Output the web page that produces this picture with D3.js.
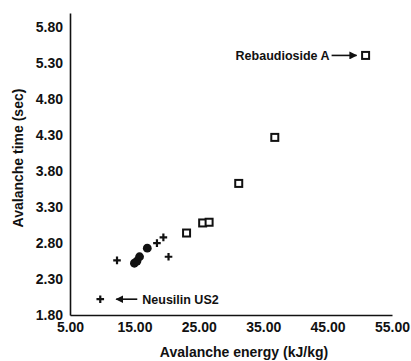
<!DOCTYPE html>
<html>
<head>
<meta charset="utf-8">
<script src="https://cdn.jsdelivr.net/npm/d3@7"></script>
<style>
  body { margin: 0; background: #fff; }
  text { font-family: "Liberation Sans", Arial, sans-serif; font-weight: bold; fill: #111; }
</style>
</head>
<body>
<div id="chart"></div>
<script>
// data
var plusX = [9.7, 12.3, 18.5, 19.5, 20.3];
var plusY = [2.02, 2.56, 2.80, 2.88, 2.61];
var dotX = [15.0, 15.4, 15.8, 17.0];
var dotY = [2.52, 2.55, 2.61, 2.73];
var squareX = [23.1, 25.6, 26.6, 31.2, 36.8, 50.9];
var squareY = [2.94, 3.08, 3.09, 3.63, 4.27, 5.41];
var xTicks = [5, 15, 25, 35, 45, 55];
var yTicks = [1.8, 2.3, 2.8, 3.3, 3.8, 4.3, 4.8, 5.3, 5.8];

var margin = {top: 13, right: 19, bottom: 46, left: 70},
	width = 411 - margin.left - margin.right,
	height = 361 - margin.top - margin.bottom;

var svg = d3.select("#chart").append("svg")
	.attr("width", 411)
	.attr("height", 361)
	.append("g")
	.attr("transform", "translate(" + margin.left + "," + margin.top + ")");

var x = d3.scaleLinear().domain([5, 55]).range([0, width]);
var y = d3.scaleLinear().domain([1.8, 6.0]).range([height, 0]);

// axes
var xAxis = svg.append("g")
	.attr("transform", "translate(0," + height + ")")
	.call(d3.axisBottom(x).tickValues(xTicks).tickSize(0).tickPadding(7).tickFormat(d3.format(".2f")));
var yAxis = svg.append("g")
	.call(d3.axisLeft(y).tickValues(yTicks).tickSize(0).tickPadding(7).tickFormat(d3.format(".2f")));

[xAxis, yAxis].forEach(function(a) {
	a.select(".domain").attr("stroke", "#111").attr("stroke-width", 1.6);
	a.selectAll("text").style("font-size", "14px").attr("fill", "#111");
});

svg.append("text")
	.attr("x", width / 2 + 13)
	.attr("y", height + 42)
	.attr("text-anchor", "middle")
	.style("font-size", "14px")
	.text("Avalanche energy (kJ/kg)");

svg.append("text")
	.attr("transform", "rotate(-90)")
	.attr("x", -145)
	.attr("y", -47)
	.attr("text-anchor", "middle")
	.style("font-size", "14px")
	.text("Avalanche time (sec)");

// markers
var cross = "M-3.8,0H3.8M0,-3.8V3.8";
svg.selectAll(".plus")
	.data(plusX)
	.enter().append("path")
	.attr("class", "plus")
	.attr("d", cross)
	.attr("transform", function(d, i) { return "translate(" + x(d) + "," + y(plusY[i]) + ")"; })
	.attr("stroke", "#111")
	.attr("stroke-width", 2.2);

svg.selectAll(".dot")
	.data(dotX)
	.enter().append("circle")
	.attr("class", "dot")
	.attr("cx", function(d) { return x(d); })
	.attr("cy", function(d, i) { return y(dotY[i]); })
	.attr("r", 4.4)
	.attr("fill", "#111");

svg.selectAll(".square")
	.data(squareX)
	.enter().append("rect")
	.attr("class", "square")
	.attr("x", function(d) { return x(d) - 3.5; })
	.attr("y", function(d, i) { return y(squareY[i]) - 3.5; })
	.attr("width", 7)
	.attr("height", 7)
	.attr("fill", "#fff")
	.attr("stroke", "#111")
	.attr("stroke-width", 2);

// annotations
svg.append("defs").append("marker")
	.attr("id", "arrow")
	.attr("viewBox", "0 0 10 10")
	.attr("refX", 9).attr("refY", 5)
	.attr("markerWidth", 5).attr("markerHeight", 5)
	.attr("orient", "auto")
	.append("path").attr("d", "M0,0L10,5L0,10z").attr("fill", "#111");

var rx = x(squareX[5]), ry = y(squareY[5]);
svg.append("line")
	.attr("x1", rx - 34).attr("y1", ry)
	.attr("x2", rx - 9).attr("y2", ry)
	.attr("stroke", "#111").attr("stroke-width", 1.6)
	.attr("marker-end", "url(#arrow)");
svg.append("text")
	.attr("x", rx - 36).attr("y", ry + 4.5)
	.attr("text-anchor", "end")
	.style("font-size", "12.5px")
	.text("Rebaudioside A");

var nx = x(plusX[0]), ny = y(plusY[0]);
svg.append("line")
	.attr("x1", nx + 37).attr("y1", ny)
	.attr("x2", nx + 16).attr("y2", ny)
	.attr("stroke", "#111").attr("stroke-width", 1.6)
	.attr("marker-end", "url(#arrow)");
svg.append("text")
	.attr("x", nx + 42).attr("y", ny + 4.5)
	.style("font-size", "12.5px")
	.text("Neusilin US2");
</script>
</body>
</html>
